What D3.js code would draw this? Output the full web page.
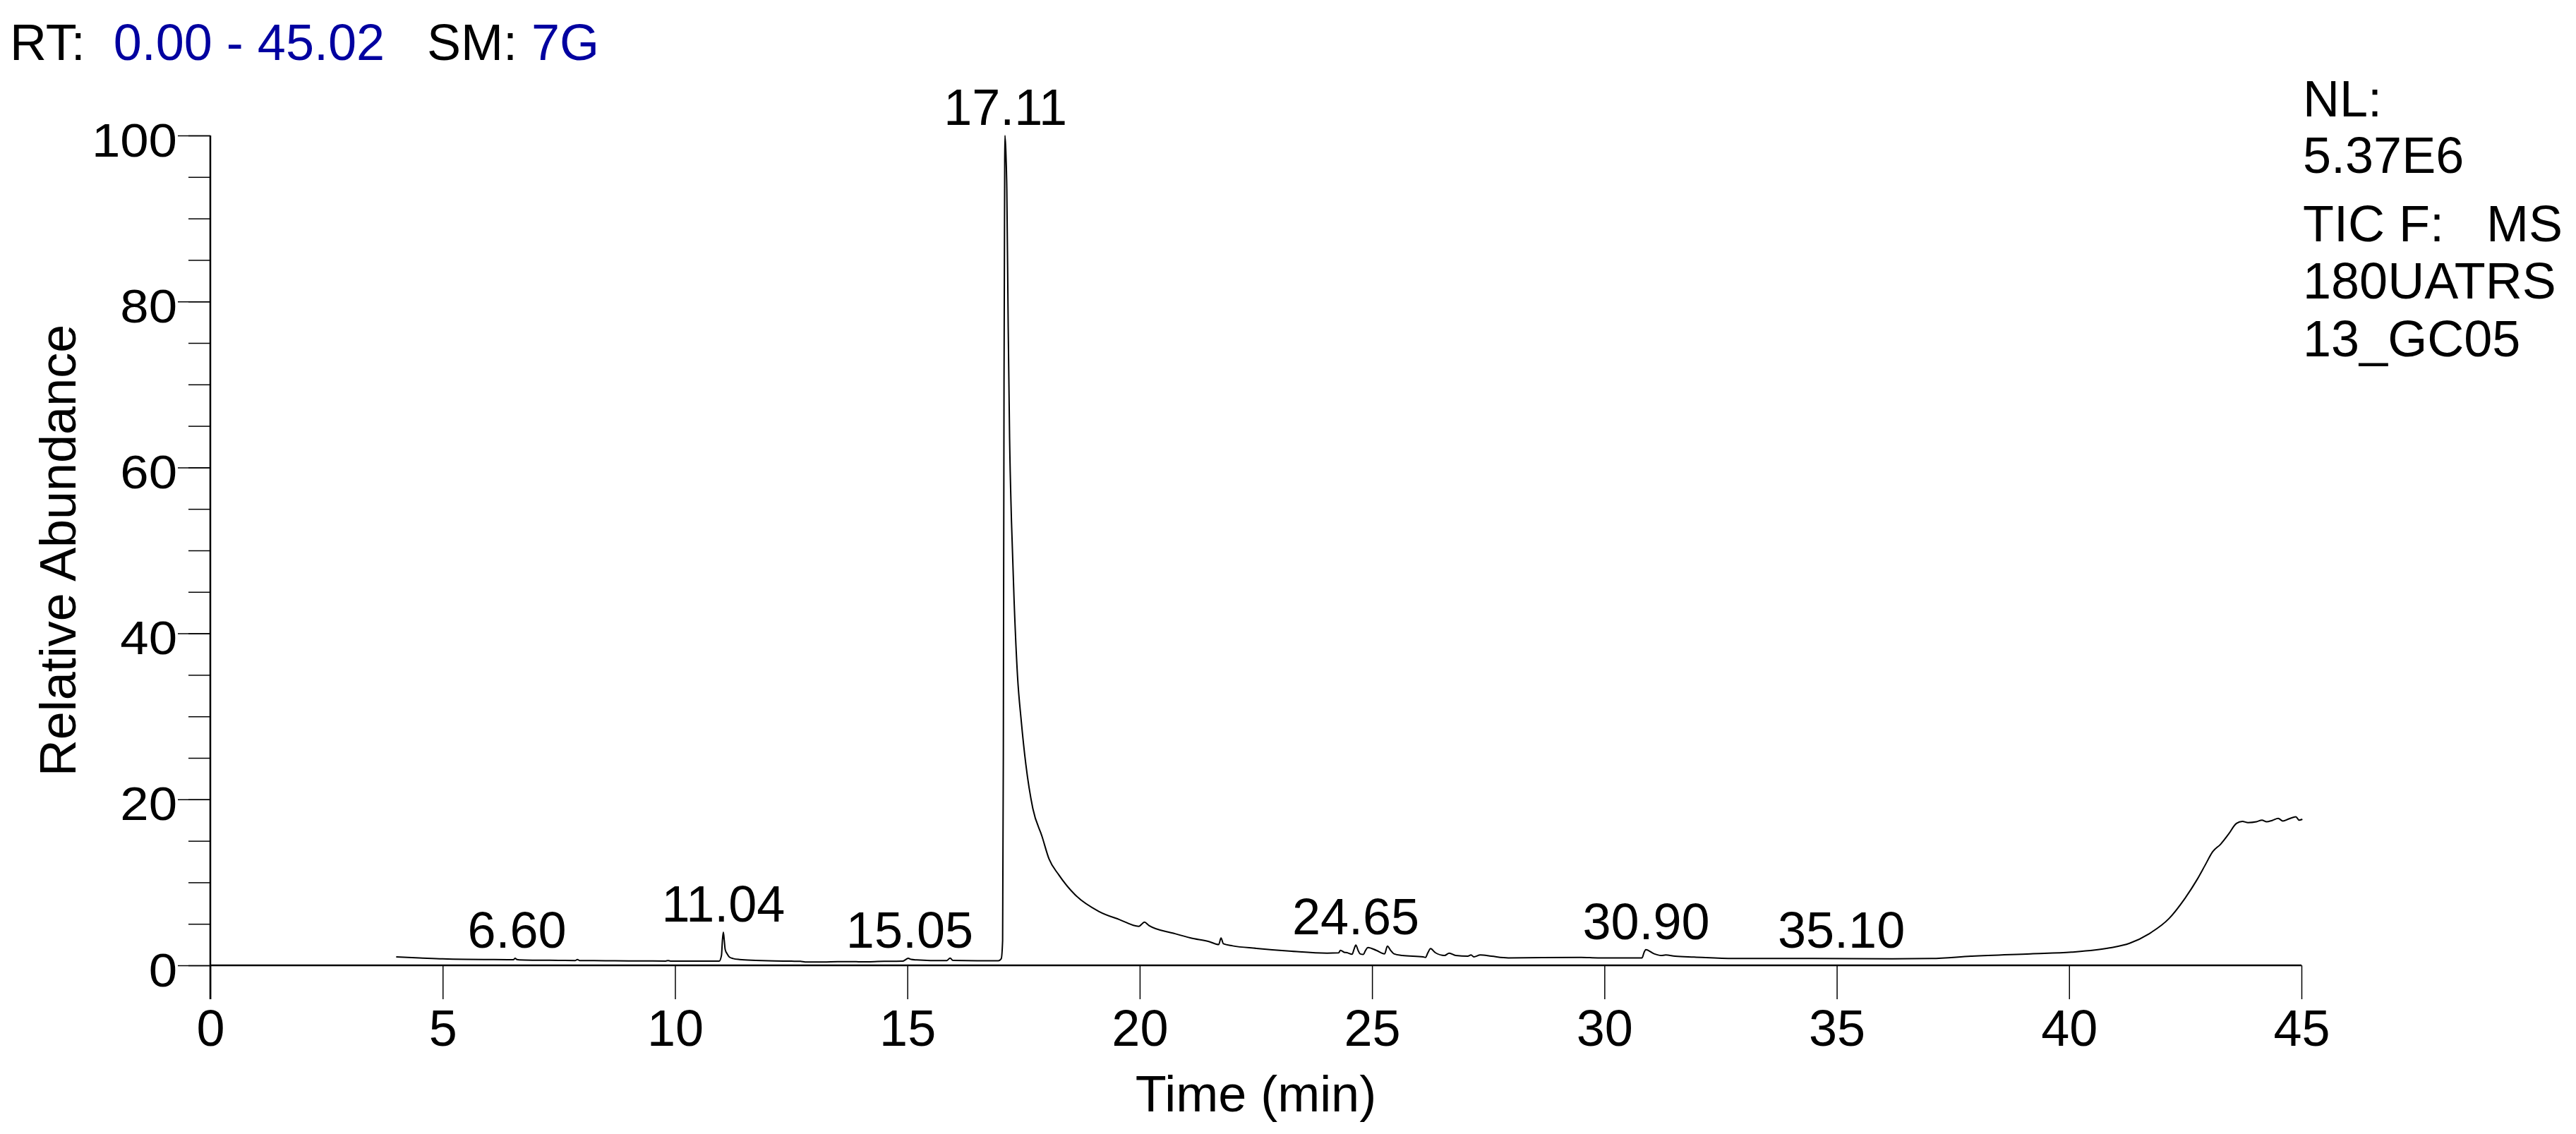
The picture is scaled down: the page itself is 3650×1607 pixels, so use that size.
<!DOCTYPE html>
<html>
<head>
<meta charset="utf-8">
<script src="https://cdn.jsdelivr.net/npm/d3@7"></script>
<style>
  html, body { margin: 0; padding: 0; background: #fff; }
  svg { display: block; }
  text { font-family: "Liberation Sans", Arial, sans-serif; fill: #000; }
</style>
</head>
<body>
<script>
// ---------- data ----------
const rt = [
  4.00, 4.50, 5.00, 5.50, 6.00, 6.40, 6.52, 6.56, 6.60, 6.65, 7.00, 7.50, 7.85, 7.90, 7.95,
  8.50, 9.00, 9.80, 9.85, 9.90, 10.50, 10.95, 11.00, 11.02, 11.04, 11.06, 11.08, 11.12, 11.17,
  11.25, 11.39, 11.74, 12.00, 12.50, 12.70, 12.80, 13.20, 13.50, 13.90, 14.00, 14.50, 14.90,
  14.97, 15.02, 15.08, 15.20, 15.50, 15.85, 15.92, 15.98, 16.50, 16.96, 17.02, 17.05, 17.065,
  17.08, 17.095, 17.10, 17.12, 17.14, 17.17, 17.20, 17.24, 17.30, 17.37, 17.45, 17.55, 17.70,
  17.90, 18.05, 18.26, 18.61, 19.12, 19.57, 19.98, 20.05, 20.10, 20.20, 20.74, 21.10, 21.50,
  21.70, 21.75, 21.80, 22.00, 22.51, 23.27, 24.03, 24.28, 24.32, 24.40, 24.46, 24.57, 24.61,
  24.65, 24.70, 24.74, 24.81, 24.86, 24.91, 25.09, 25.27, 25.33, 25.40, 25.47, 25.65, 26.10,
  26.15, 26.20, 26.26, 26.36, 26.56, 26.66, 26.80, 27.06, 27.13, 27.19, 27.33, 27.57, 27.93,
  29.50, 29.86, 30.81, 30.85, 30.89, 31.07, 31.22, 31.32, 31.52, 31.93, 32.78, 34.48, 36.19,
  37.04, 37.89, 39.17, 40.05, 40.87, 41.30, 41.72, 42.15, 42.49, 42.75, 42.92, 43.09, 43.26,
  43.43, 43.60, 43.73, 43.85, 44.03, 44.15, 44.25, 44.37, 44.50, 44.60, 44.71, 44.80, 44.88,
  44.95, 45.02
];
const abundance = [
  1.02, 0.90, 0.78, 0.72, 0.70, 0.68, 0.67, 0.84, 0.70, 0.66, 0.62, 0.60, 0.58, 0.70, 0.58,
  0.56, 0.54, 0.52, 0.58, 0.52, 0.50, 0.50, 1.2, 3.0, 4.0, 3.0, 1.9, 1.4, 1.0,
  0.82, 0.70, 0.60, 0.55, 0.50, 0.48, 0.40, 0.40, 0.44, 0.44, 0.42, 0.48, 0.50,
  0.72, 0.85, 0.72, 0.65, 0.58, 0.58, 0.88, 0.60, 0.56, 0.56, 0.80, 3.0, 25,
  70, 97, 100, 98, 93.6, 76.9, 63.5, 53.6, 43.5, 34.9, 29.5, 24.2, 18.9,
  15.5, 12.8, 10.9, 8.5, 6.5, 5.5, 4.7, 5.0, 5.2, 4.8, 3.85, 3.3, 2.85,
  2.5, 3.3, 2.6, 2.35, 2.05, 1.7, 1.47, 1.50, 1.81, 1.58, 1.53, 1.33, 1.9,
  2.44, 1.8, 1.39, 1.31, 1.8, 2.15, 1.81, 1.39, 2.32, 1.8, 1.39, 1.19, 1.02,
  0.96, 1.5, 2.01, 1.53, 1.19, 1.47, 1.19, 1.10, 1.25, 1.02, 1.25, 1.10, 0.90,
  0.96, 0.90, 0.90, 1.5, 1.9, 1.39, 1.19, 1.25, 1.10, 1.00, 0.82, 0.82, 0.79,
  0.82, 1.10, 1.39, 1.59, 2.10, 2.66, 3.80, 5.64, 8.05, 10.3, 12.0, 13.7, 14.6,
  15.8, 17.1, 17.35, 17.2, 17.3, 17.5, 17.3, 17.46, 17.7, 17.4, 17.6, 17.8, 17.9,
  17.5, 17.6
];

const peakLabels = ["6.60", "11.04", "15.05", "17.11", "24.65", "30.90", "35.10"];
const peakRT     = [6.60, 11.04, 15.05, 17.11, 24.65, 30.90, 35.10];
const peakHeight = [0.82, 4.0, 0.82, 100, 2.44, 1.9, 0.85];

const xMajorTicks = [0, 5, 10, 15, 20, 25, 30, 35, 40, 45];
const xMinorTicks = d3.range(0, 46, 1);
const yMajorTicks = [0, 20, 40, 60, 80, 100];
const yMinorTicks = d3.range(0, 101, 5);

const headerParts = [
  {text: "RT:  ", blue: false},
  {text: "0.00 - 45.02", blue: true},
  {text: "   SM: ", blue: false},
  {text: "7G", blue: true}
];
const infoLines = ["NL:", "5.37E6", "TIC F:", "180UATRS", "13_GC05"];
const infoExtra = "MS";
const xTitle = "Time (min)";
const yTitle = "Relative Abundance";

// ---------- layout ----------
const W = 3650, H = 1607;
const BLUE = "#0000a0";
const svg = d3.select("body").append("svg").attr("width", W).attr("height", H);
svg.append("rect").attr("width", W).attr("height", H).attr("fill", "#fff");

const x = d3.scaleLinear().domain([0, 45]).range([298, 3261]);
const y = d3.scaleLinear().domain([0, 100]).range([1368, 192]);

// ---------- axes ----------
const y0 = y(0);
const gx = svg.append("g").attr("transform", `translate(0,${y0})`);
gx.call(d3.axisBottom(x).tickValues(xMinorTicks).tickSize(32).tickSizeOuter(0).tickFormat(""));
gx.call(d3.axisBottom(x).tickValues(xMajorTicks).tickSize(48).tickSizeOuter(0).tickFormat(d3.format("d")));
gx.selectAll(".domain").remove();
gx.selectAll("line").attr("stroke", "#000").attr("stroke-width", 1.5);
gx.selectAll("text")
  .attr("y", 1482 - y0).attr("dy", null)
  .style("font-size", "72px").style("font-family", "'Liberation Sans', Arial, sans-serif")
  .attr("fill", "#000");

const gy = svg.append("g").attr("transform", `translate(${x(0)},0)`);
gy.call(d3.axisLeft(y).tickValues(yMinorTicks).tickSize(31).tickSizeOuter(0).tickFormat(""));
const gyMajor = svg.append("g").attr("transform", `translate(${x(0)},0)`);
gyMajor.call(d3.axisLeft(y).tickValues(yMajorTicks).tickSize(46).tickSizeOuter(0).tickFormat(d3.format("d")));
gy.selectAll(".domain").remove();
gyMajor.selectAll(".domain").remove();
gy.selectAll("line").attr("stroke", "#000").attr("stroke-width", 1.5);
gyMajor.selectAll("line").attr("stroke", "#000").attr("stroke-width", 1.5);
gyMajor.selectAll("text")
  .attr("x", null).attr("dy", null)
  .attr("transform", "translate(-47,29) scale(1.1,1)")
  .attr("text-anchor", "end")
  .style("font-size", "66px").style("font-family", "'Liberation Sans', Arial, sans-serif")
  .attr("fill", "#000");

// axis lines
svg.append("line").attr("x1", x(0)).attr("x2", x(0)).attr("y1", y(100)).attr("y2", y0 + 48)
  .attr("stroke", "#000").attr("stroke-width", 2.5);
svg.append("line").attr("x1", x(0)).attr("x2", x(45)).attr("y1", y0).attr("y2", y0)
  .attr("stroke", "#000").attr("stroke-width", 2.5);

// ---------- trace ----------
const pts = rt.map((t, i) => [t, abundance[i]]);
svg.append("path")
  .datum(pts)
  .attr("fill", "none")
  .attr("stroke", "#000")
  .attr("stroke-width", 2)
  .attr("stroke-linejoin", "round")
  .attr("d", d3.line().curve(d3.curveMonotoneX).x(d => x(d[0])).y(d => y(d[1])));

// ---------- peak labels ----------
svg.append("g").selectAll("text")
  .data(peakLabels)
  .join("text")
  .attr("x", (d, i) => x(peakRT[i]))
  .attr("y", (d, i) => y(peakHeight[i]) - 15)
  .attr("text-anchor", "middle")
  .style("font-size", "72px")
  .text(d => d);

// ---------- titles ----------
svg.append("text")
  .attr("x", (x(0) + x(45)) / 2).attr("y", 1575)
  .attr("text-anchor", "middle").style("font-size", "72px")
  .text(xTitle);

svg.append("text")
  .attr("transform", `translate(107,${(y(0) + y(100)) / 2}) rotate(-90)`)
  .attr("text-anchor", "middle").style("font-size", "72px")
  .text(yTitle);

// header
const header = svg.append("text").attr("x", 14).attr("y", 85)
  .style("font-size", "72px").style("white-space", "pre").attr("xml:space", "preserve");
header.selectAll("tspan").data(headerParts).join("tspan")
  .attr("fill", d => d.blue ? BLUE : "#000")
  .style("fill", d => d.blue ? BLUE : "#000")
  .text(d => d.text);

// right info block
const infoBaselines = [165, 245, 342, 423, 505];
svg.append("g").selectAll("text").data(infoLines).join("text")
  .attr("x", 3263).attr("y", (d, i) => infoBaselines[i])
  .style("font-size", "72px")
  .text(d => d);
svg.append("text").attr("x", 3631).attr("y", infoBaselines[2])
  .attr("text-anchor", "end").style("font-size", "72px").text(infoExtra);
</script>
</body>
</html>
